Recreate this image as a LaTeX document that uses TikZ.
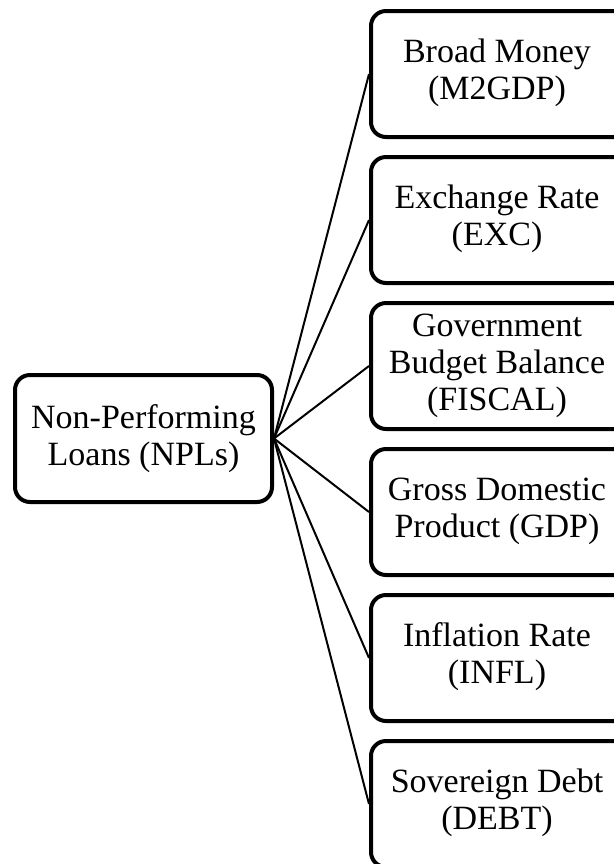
\documentclass[tikz,border=0pt]{standalone}
\usepackage{fontspec}
\setmainfont{Liberation Serif}
\newcommand{\rtext}[1]{\begin{tabular}{@{}c@{}}#1\end{tabular}\hspace*{6pt}}
\begin{document}
\begin{tikzpicture}[x=0.5pt,y=-0.5pt,
  box/.style={draw=black, line width=2pt, rounded corners=7.5pt, align=center,
    font=\fontsize{17}{18.4}\selectfont, inner sep=0pt},
  rbox/.style={box, minimum width=132pt, minimum height=63pt},
  lbox/.style={box, minimum width=128.5pt, minimum height=63.5pt},
  link/.style={draw=black, line width=1pt}]
\useasboundingbox (0,0) rectangle (614,864);
\clip (0,0) rectangle (614,864);
\node[lbox] (npl) at (143.5,438.5) {Non-Performing\\Loans (NPLs)};
\node[rbox] (b1) at (503,74) {\rtext{Broad Money\\(M2GDP)}};
\node[rbox] (b2) at (503,220) {\rtext{Exchange Rate\\(EXC)}};
\node[rbox] (b3) at (503,366) {\rtext{Government\\Budget Balance\\(FISCAL)}};
\node[rbox] (b4) at (503,512) {\rtext{Gross Domestic\\Product (GDP)}};
\node[rbox] (b5) at (503,658) {\rtext{Inflation Rate\\(INFL)}};
\node[rbox] (b6) at (503,804) {\rtext{Sovereign Debt\\(DEBT)}};
\foreach \i in {1,...,6}{
  \draw[link] (npl.east) -- (b\i.west);
}
\end{tikzpicture}
\end{document}
